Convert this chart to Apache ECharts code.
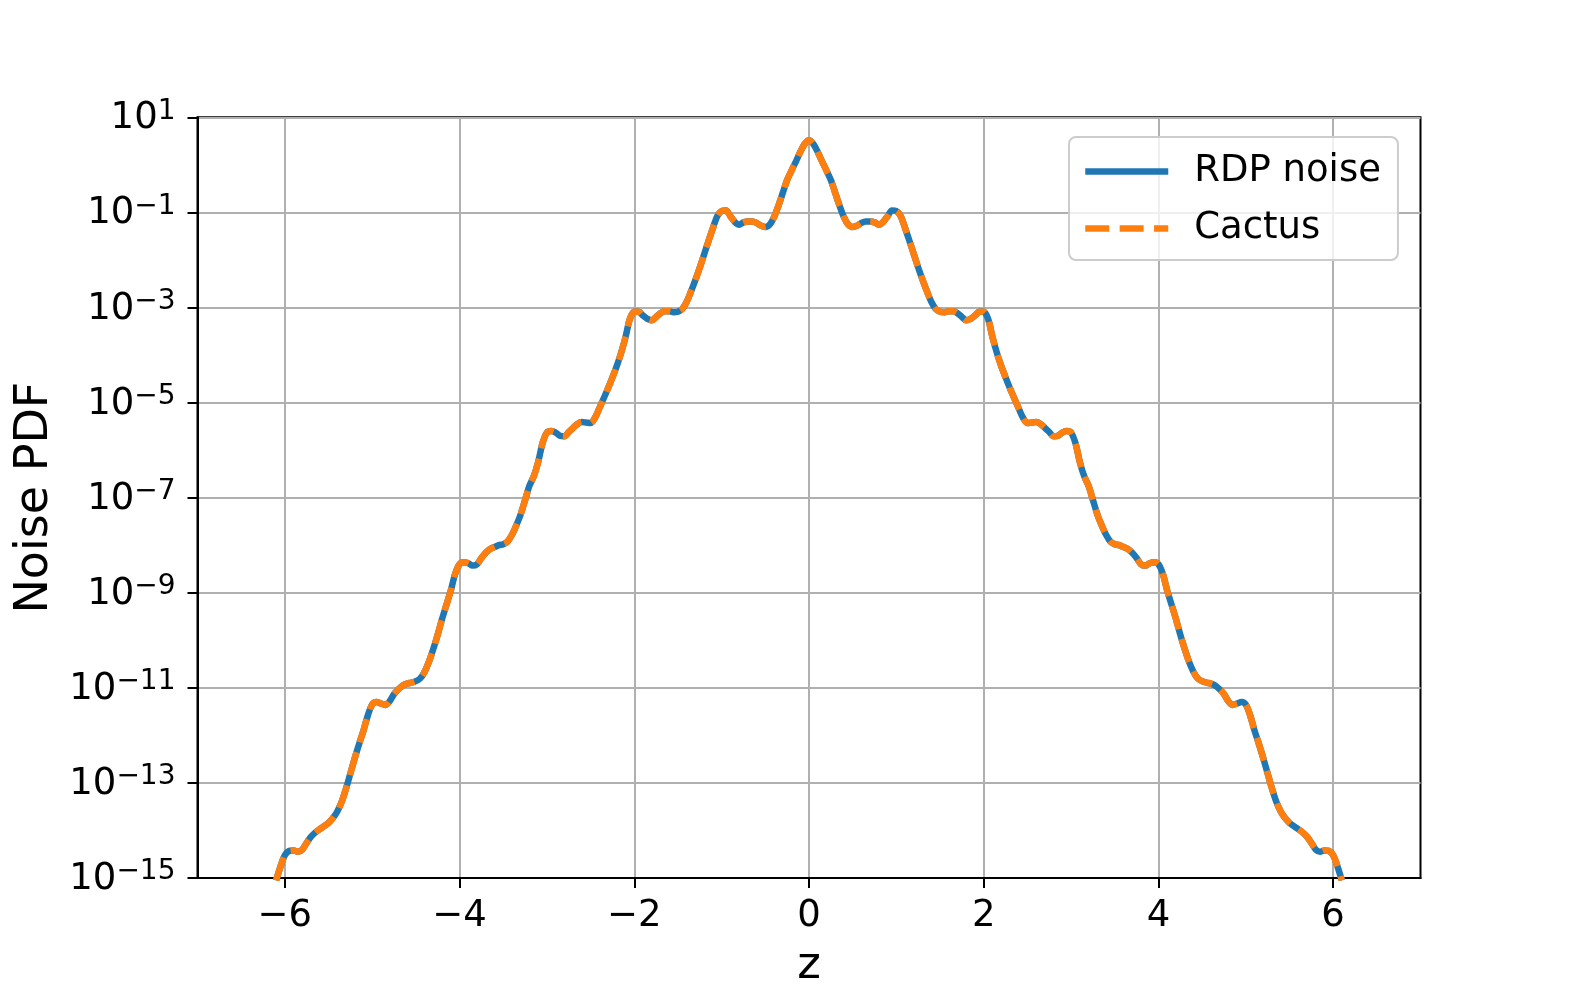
<!DOCTYPE html>
<html><head><meta charset="utf-8">
<script src="https://cdn.jsdelivr.net/npm/echarts@6/dist/echarts.min.js"></script>
<style>html,body{margin:0;padding:0;background:#fff}#c{width:1578px;height:986px}</style>
</head><body><div id="c"></div>
<script>
const zValues = [
-6.10,-6.05,-6.00,-5.95,-5.90,-5.85,-5.80,-5.75,-5.70,-5.65,-5.60,-5.55,-5.50,-5.45,-5.40,-5.35,-5.30,-5.25,-5.20,-5.15,
-5.10,-5.05,-5.00,-4.95,-4.90,-4.85,-4.80,-4.75,-4.70,-4.65,-4.60,-4.55,-4.50,-4.45,-4.40,-4.35,-4.30,-4.25,-4.20,-4.15,
-4.10,-4.05,-4.00,-3.95,-3.90,-3.85,-3.80,-3.75,-3.70,-3.65,-3.60,-3.55,-3.50,-3.45,-3.40,-3.35,-3.30,-3.25,-3.20,-3.15,
-3.10,-3.05,-3.00,-2.95,-2.90,-2.85,-2.80,-2.75,-2.70,-2.65,-2.60,-2.55,-2.50,-2.45,-2.40,-2.35,-2.30,-2.25,-2.20,-2.15,
-2.10,-2.05,-2.00,-1.95,-1.90,-1.85,-1.80,-1.75,-1.70,-1.65,-1.60,-1.55,-1.50,-1.45,-1.40,-1.35,-1.30,-1.25,-1.20,-1.15,
-1.10,-1.05,-1.00,-0.95,-0.90,-0.85,-0.80,-0.75,-0.70,-0.65,-0.60,-0.55,-0.50,-0.45,-0.40,-0.35,-0.30,-0.25,-0.20,-0.15,
-0.10,-0.05,0.00,
0.05,0.10,0.15,0.20,0.25,0.30,0.35,0.40,0.45,0.50,0.55,0.60,0.65,0.70,0.75,0.80,0.85,0.90,0.95,1.00,
1.05,1.10,1.15,1.20,1.25,1.30,1.35,1.40,1.45,1.50,1.55,1.60,1.65,1.70,1.75,1.80,1.85,1.90,1.95,2.00,
2.05,2.10,2.15,2.20,2.25,2.30,2.35,2.40,2.45,2.50,2.55,2.60,2.65,2.70,2.75,2.80,2.85,2.90,2.95,3.00,
3.05,3.10,3.15,3.20,3.25,3.30,3.35,3.40,3.45,3.50,3.55,3.60,3.65,3.70,3.75,3.80,3.85,3.90,3.95,4.00,
4.05,4.10,4.15,4.20,4.25,4.30,4.35,4.40,4.45,4.50,4.55,4.60,4.65,4.70,4.75,4.80,4.85,4.90,4.95,5.00,
5.05,5.10,5.15,5.20,5.25,5.30,5.35,5.40,5.45,5.50,5.55,5.60,5.65,5.70,5.75,5.80,5.85,5.90,5.95,6.00,
6.05,6.10
];

const rdpNoisePdf = [
8.91e-16,1.74e-15,3.02e-15,3.72e-15,3.80e-15,3.55e-15,3.98e-15,5.50e-15,7.41e-15,9.12e-15,
1.07e-14,1.23e-14,1.45e-14,1.82e-14,2.51e-14,3.98e-14,7.59e-14,1.58e-13,3.31e-13,6.61e-13,
1.26e-12,2.63e-12,4.47e-12,5.01e-12,4.68e-12,4.37e-12,5.25e-12,7.41e-12,9.33e-12,1.12e-11,
1.23e-11,1.29e-11,1.38e-11,1.58e-11,2.19e-11,3.55e-11,6.61e-11,1.32e-10,2.82e-10,5.62e-10,
1.12e-9,2.51e-9,3.98e-9,4.37e-9,4.17e-9,3.72e-9,3.98e-9,5.37e-9,6.92e-9,8.32e-9,
9.12e-9,1.00e-8,1.05e-8,1.20e-8,1.66e-8,2.63e-8,4.47e-8,8.91e-8,1.78e-7,2.82e-7,
5.62e-7,1.41e-6,2.34e-6,2.51e-6,2.34e-6,2.00e-6,1.95e-6,2.40e-6,2.95e-6,3.55e-6,
3.89e-6,3.80e-6,3.72e-6,4.79e-6,7.59e-6,1.23e-5,2.00e-5,3.39e-5,5.89e-5,1.12e-4,
2.40e-4,5.75e-4,8.13e-4,8.13e-4,6.76e-4,5.75e-4,5.37e-4,6.31e-4,7.59e-4,8.32e-4,
8.32e-4,7.94e-4,8.13e-4,9.33e-4,1.32e-3,2.19e-3,3.80e-3,6.92e-3,1.32e-2,2.51e-2,
4.68e-2,8.32e-2,1.07e-1,1.10e-1,8.32e-2,6.31e-2,5.50e-2,6.17e-2,6.46e-2,6.46e-2,
6.03e-2,5.25e-2,4.90e-2,5.50e-2,7.94e-2,1.38e-1,2.57e-1,4.79e-1,7.59e-1,1.17,
1.86,2.75,3.31,
2.75,1.86,1.17,7.59e-1,4.79e-1,2.57e-1,1.38e-1,7.94e-2,5.50e-2,
4.90e-2,5.25e-2,6.03e-2,6.46e-2,6.46e-2,6.17e-2,5.50e-2,6.31e-2,8.32e-2,1.10e-1,
1.07e-1,8.32e-2,4.68e-2,2.51e-2,1.32e-2,6.92e-3,3.80e-3,2.19e-3,1.32e-3,9.33e-4,
8.13e-4,7.94e-4,8.32e-4,8.32e-4,7.59e-4,6.31e-4,5.37e-4,5.75e-4,6.76e-4,8.13e-4,
8.13e-4,5.75e-4,2.40e-4,1.12e-4,5.89e-5,3.39e-5,2.00e-5,1.23e-5,7.59e-6,4.79e-6,
3.72e-6,3.80e-6,3.89e-6,3.55e-6,2.95e-6,2.40e-6,1.95e-6,2.00e-6,2.34e-6,2.51e-6,
2.34e-6,1.41e-6,5.62e-7,2.82e-7,1.78e-7,8.91e-8,4.47e-8,2.63e-8,1.66e-8,1.20e-8,
1.05e-8,1.00e-8,9.12e-9,8.32e-9,6.92e-9,5.37e-9,3.98e-9,3.72e-9,4.17e-9,4.37e-9,
3.98e-9,2.51e-9,1.12e-9,5.62e-10,2.82e-10,1.32e-10,6.61e-11,3.55e-11,2.19e-11,1.58e-11,
1.38e-11,1.29e-11,1.23e-11,1.12e-11,9.33e-12,7.41e-12,5.25e-12,4.37e-12,4.68e-12,5.01e-12,
4.47e-12,2.63e-12,1.26e-12,6.61e-13,3.31e-13,1.58e-13,7.59e-14,3.98e-14,2.51e-14,1.82e-14,
1.45e-14,1.23e-14,1.07e-14,9.12e-15,7.41e-15,5.50e-15,3.98e-15,3.55e-15,3.80e-15,3.72e-15,
3.02e-15,1.74e-15,8.91e-16
];

const cactusPdf = [
8.91e-16,1.74e-15,3.02e-15,3.72e-15,3.80e-15,3.55e-15,3.98e-15,5.50e-15,7.41e-15,9.12e-15,
1.07e-14,1.23e-14,1.45e-14,1.82e-14,2.51e-14,3.98e-14,7.59e-14,1.58e-13,3.31e-13,6.61e-13,
1.26e-12,2.63e-12,4.47e-12,5.01e-12,4.68e-12,4.37e-12,5.25e-12,7.41e-12,9.33e-12,1.12e-11,
1.23e-11,1.29e-11,1.38e-11,1.58e-11,2.19e-11,3.55e-11,6.61e-11,1.32e-10,2.82e-10,5.62e-10,
1.12e-9,2.51e-9,3.98e-9,4.37e-9,4.17e-9,3.72e-9,3.98e-9,5.37e-9,6.92e-9,8.32e-9,
9.12e-9,1.00e-8,1.05e-8,1.20e-8,1.66e-8,2.63e-8,4.47e-8,8.91e-8,1.78e-7,2.82e-7,
5.62e-7,1.41e-6,2.34e-6,2.51e-6,2.34e-6,2.00e-6,1.95e-6,2.40e-6,2.95e-6,3.55e-6,
3.89e-6,3.80e-6,3.72e-6,4.79e-6,7.59e-6,1.23e-5,2.00e-5,3.39e-5,5.89e-5,1.12e-4,
2.40e-4,5.75e-4,8.13e-4,8.13e-4,6.76e-4,5.75e-4,5.37e-4,6.31e-4,7.59e-4,8.32e-4,
8.32e-4,7.94e-4,8.13e-4,9.33e-4,1.32e-3,2.19e-3,3.80e-3,6.92e-3,1.32e-2,2.51e-2,
4.68e-2,8.32e-2,1.07e-1,1.10e-1,8.32e-2,6.31e-2,5.50e-2,6.17e-2,6.46e-2,6.46e-2,
6.03e-2,5.25e-2,4.90e-2,5.50e-2,7.94e-2,1.38e-1,2.57e-1,4.79e-1,7.59e-1,1.17,
1.86,2.75,3.31,
2.75,1.86,1.17,7.59e-1,4.79e-1,2.57e-1,1.38e-1,7.94e-2,5.50e-2,
4.90e-2,5.25e-2,6.03e-2,6.46e-2,6.46e-2,6.17e-2,5.50e-2,6.31e-2,8.32e-2,1.10e-1,
1.07e-1,8.32e-2,4.68e-2,2.51e-2,1.32e-2,6.92e-3,3.80e-3,2.19e-3,1.32e-3,9.33e-4,
8.13e-4,7.94e-4,8.32e-4,8.32e-4,7.59e-4,6.31e-4,5.37e-4,5.75e-4,6.76e-4,8.13e-4,
8.13e-4,5.75e-4,2.40e-4,1.12e-4,5.89e-5,3.39e-5,2.00e-5,1.23e-5,7.59e-6,4.79e-6,
3.72e-6,3.80e-6,3.89e-6,3.55e-6,2.95e-6,2.40e-6,1.95e-6,2.00e-6,2.34e-6,2.51e-6,
2.34e-6,1.41e-6,5.62e-7,2.82e-7,1.78e-7,8.91e-8,4.47e-8,2.63e-8,1.66e-8,1.20e-8,
1.05e-8,1.00e-8,9.12e-9,8.32e-9,6.92e-9,5.37e-9,3.98e-9,3.72e-9,4.17e-9,4.37e-9,
3.98e-9,2.51e-9,1.12e-9,5.62e-10,2.82e-10,1.32e-10,6.61e-11,3.55e-11,2.19e-11,1.58e-11,
1.38e-11,1.29e-11,1.23e-11,1.12e-11,9.33e-12,7.41e-12,5.25e-12,4.37e-12,4.68e-12,5.01e-12,
4.47e-12,2.63e-12,1.26e-12,6.61e-13,3.31e-13,1.58e-13,7.59e-14,3.98e-14,2.51e-14,1.82e-14,
1.45e-14,1.23e-14,1.07e-14,9.12e-15,7.41e-15,5.50e-15,3.98e-15,3.55e-15,3.80e-15,3.72e-15,
3.02e-15,1.74e-15,8.91e-16
];

const xTickValues = [-6, -4, -2, 0, 2, 4, 6];
const seriesNames = ['RDP noise', 'Cactus'];
const xAxisTitle = 'z';
const yAxisTitle = 'Noise PDF';

const FONT = 'DejaVu Sans';
const toPairs = (xs, ys) => xs.map((x, i) => [x, ys[i]]);
const minusSign = s => String(s).replace('-', '\u2212');

const chart = echarts.init(document.getElementById('c'), null, {renderer: 'canvas'});
chart.setOption({
  backgroundColor: '#ffffff',
  animation: false,
  grid: {
    left: 197.5, right: 157.5, top: 117.3, bottom: 108,
    containLabel: false, outerBoundsMode: 'none',
    show: true, borderColor: '#000', borderWidth: 2, backgroundColor: 'transparent'
  },
  legend: {
    orient: 'vertical',
    left: 1069, top: 137,
    padding: [14.5, 17, 11.5, 13],
    itemWidth: 83, itemHeight: 14, itemGap: 17,
    backgroundColor: 'rgba(255,255,255,0.8)',
    borderColor: '#cccccc', borderWidth: 2, borderRadius: 7,
    itemStyle: {opacity: 0},
    lineStyle: {width: 6.5},
    textStyle: {fontFamily: FONT, fontSize: 37, color: '#000', lineHeight: 40, padding: [0, 0, 0, 21]},
    data: seriesNames
  },
  xAxis: {
    type: 'value', min: -7, max: 7,
    name: xAxisTitle, nameLocation: 'middle', nameGap: 66,
    nameTextStyle: {fontFamily: FONT, fontSize: 45, color: '#000'},
    axisLine: {show: true, onZero: false, lineStyle: {color: '#000', width: 2}},
    axisTick: {show: true, customValues: xTickValues, length: 10, lineStyle: {color: '#000', width: 2}},
    axisLabel: {customValues: xTickValues, margin: 20, fontFamily: FONT, fontSize: 37, color: '#000',
      formatter: v => minusSign(v)},
    splitLine: {show: true, lineStyle: {color: '#b0b0b0', width: 2}}
  },
  yAxis: {
    type: 'log', logBase: 10, min: 1e-15, max: 10, interval: 2,
    name: yAxisTitle, nameLocation: 'middle', nameGap: 138, nameRotate: 90,
    nameTextStyle: {fontFamily: FONT, fontSize: 46, color: '#000'},
    axisLine: {show: true, onZero: false, lineStyle: {color: '#000', width: 2}},
    axisTick: {show: true, length: 10, lineStyle: {color: '#000', width: 2}},
    minorTick: {show: false},
    axisLabel: {
      margin: 22, showMinLabel: true, showMaxLabel: true,
      formatter: v => {
        const e = Math.round(Math.log10(v));
        return '{b|10}{s|' + minusSign(e) + '}';
      },
      rich: {
        b: {fontFamily: FONT, fontSize: 37, color: '#000', lineHeight: 40, verticalAlign: 'bottom'},
        s: {fontFamily: FONT, fontSize: 28, color: '#000', lineHeight: 28, padding: [0, 0, 19, 0], verticalAlign: 'top'}
      }
    },
    splitLine: {show: true, lineStyle: {color: '#b0b0b0', width: 2}}
  },
  series: [
    {
      name: seriesNames[0], type: 'line', data: toPairs(zValues, rdpNoisePdf),
      symbol: 'none', showSymbol: false, smooth: 0.3, clip: true,
      lineStyle: {color: '#1f77b4', width: 6.5}, itemStyle: {color: '#1f77b4'}, z: 2
    },
    {
      name: seriesNames[1], type: 'line', data: toPairs(zValues, cactusPdf),
      symbol: 'none', showSymbol: false, smooth: 0.3, clip: true,
      lineStyle: {color: '#ff7f0e', width: 6.5, type: [24, 10.4], cap: 'butt'}, itemStyle: {color: '#ff7f0e'}, z: 3
    }
  ]
});
</script>
</body></html>
